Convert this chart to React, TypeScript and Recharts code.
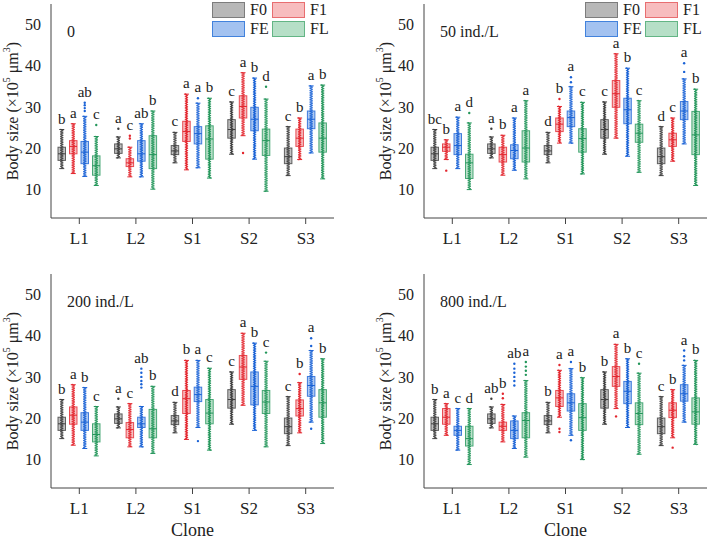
import React from 'react';
import { ComposedChart, Bar, XAxis, YAxis, LabelList, Legend, Label } from 'recharts';

// [min, q1, median, q3, max] for each clone
type Stats = [number, number, number, number, number];

const clones = ['L1', 'L2', 'S1', 'S2', 'S3'];
const groups = ['F0', 'F1', 'FE', 'FL'];
const densities = ['0', '50 ind./L', '200 ind./L', '800 ind./L'];
const yTicks = [10, 20, 30, 40, 50];

// F0 is the shared founder generation
const f0: Stats[] = [
  [15.0, 17.0, 18.6, 20.2, 24.5],
  [17.6, 18.7, 19.8, 21.0, 22.7],
  [16.4, 18.4, 19.3, 20.6, 23.8],
  [18.5, 22.4, 24.5, 26.9, 31.2],
  [13.3, 16.2, 17.9, 20.0, 25.2],
];

const f1Control: Stats[] = [
  [13.8, 18.6, 20.4, 21.8, 25.9],
  [13.0, 15.5, 16.4, 17.4, 20.2],
  [14.7, 21.6, 24.0, 26.5, 33.1],
  [23.0, 27.3, 30.1, 32.7, 38.3],
  [17.2, 20.4, 22.4, 24.6, 27.3],
];
const feControl: Stats[] = [
  [13.1, 16.2, 19.0, 21.6, 27.7],
  [13.0, 16.8, 18.6, 21.8, 25.9],
  [15.2, 21.0, 23.5, 25.2, 30.9],
  [17.3, 24.2, 27.0, 29.9, 37.0],
  [18.8, 24.7, 27.0, 29.0, 35.1],
];
const flControl: Stats[] = [
  [10.9, 13.4, 15.7, 18.1, 22.8],
  [10.0, 15.0, 18.4, 23.0, 29.0],
  [12.7, 17.3, 22.2, 25.4, 32.1],
  [9.5, 18.2, 21.8, 24.6, 31.9],
  [12.5, 19.0, 22.4, 26.1, 35.3],
];

const f1D50: Stats[] = [
  [17.2, 19.2, 20.2, 21.0, 22.0],
  [13.4, 16.6, 18.4, 20.2, 23.1],
  [21.2, 24.0, 25.8, 27.3, 30.1],
  [22.4, 29.9, 33.2, 36.4, 42.9],
  [16.8, 20.4, 22.0, 23.6, 27.3],
];
const feD50: Stats[] = [
  [15.0, 18.4, 20.6, 23.5, 27.5],
  [14.6, 17.4, 19.4, 20.8, 27.3],
  [21.2, 25.2, 27.4, 29.0, 34.9],
  [18.0, 25.9, 29.3, 32.1, 39.4],
  [21.0, 26.9, 29.0, 31.3, 36.8],
];
const flD50: Stats[] = [
  [9.9, 12.6, 16.4, 18.5, 26.1],
  [12.5, 16.6, 20.0, 24.2, 31.5],
  [13.7, 19.0, 22.3, 24.7, 31.1],
  [14.1, 21.4, 23.6, 25.8, 31.5],
  [10.9, 18.4, 23.2, 28.9, 34.3],
];

const f1D200: Stats[] = [
  [13.4, 18.5, 20.7, 22.7, 28.1],
  [13.0, 15.2, 17.2, 18.9, 23.5],
  [14.8, 21.1, 24.7, 26.7, 34.0],
  [23.1, 29.4, 32.4, 35.2, 40.6],
  [16.4, 20.5, 22.3, 24.4, 28.6],
];
const feD200: Stats[] = [
  [12.6, 17.0, 19.0, 21.3, 27.4],
  [13.0, 17.7, 18.6, 20.2, 22.8],
  [17.7, 24.0, 25.7, 27.5, 34.0],
  [17.0, 23.2, 27.7, 31.2, 38.2],
  [19.0, 25.3, 27.9, 30.1, 36.4],
];
const flD200: Stats[] = [
  [10.8, 14.2, 16.0, 18.6, 22.8],
  [11.4, 15.2, 17.4, 22.1, 27.7],
  [12.2, 18.6, 21.2, 24.5, 32.1],
  [13.0, 21.1, 23.9, 26.7, 33.8],
  [13.8, 20.2, 23.7, 26.9, 34.4],
];

const f1D800: Stats[] = [
  [15.8, 18.5, 20.2, 22.3, 23.5],
  [14.2, 17.0, 18.0, 19.0, 23.3],
  [20.2, 22.8, 24.9, 26.7, 31.6],
  [22.3, 27.7, 30.1, 32.5, 37.9],
  [15.2, 20.1, 21.9, 23.7, 26.9],
];
const feD800: Stats[] = [
  [12.2, 15.8, 17.0, 18.0, 22.3],
  [12.6, 15.0, 17.0, 19.3, 20.5],
  [15.8, 21.7, 23.7, 25.9, 32.0],
  [17.7, 23.5, 26.5, 28.9, 34.4],
  [19.0, 24.1, 25.9, 28.1, 32.8],
];
const flD800: Stats[] = [
  [8.7, 13.2, 15.0, 18.0, 22.3],
  [10.5, 15.2, 19.4, 21.3, 29.1],
  [9.9, 17.0, 20.1, 23.5, 29.8],
  [11.2, 18.4, 21.1, 23.7, 30.9],
  [13.6, 18.5, 21.5, 24.9, 34.0],
];

// stats per panel, in the order F0, F1, FE, FL
const panelStats: Stats[][][] = [
  [f0, f1Control, feControl, flControl],
  [f0, f1D50, feD50, flD50],
  [f0, f1D200, feD200, flD200],
  [f0, f1D800, feD800, flD800],
];

// points outside the whiskers: [panel, group, clone, values]
const outliers: [number, string, string, number[]][] = [
  [0, 'F0', 'L2', [24.7]],
  [1, 'F0', 'L2', [24.7]],
  [2, 'F0', 'L2', [24.7]],
  [3, 'F0', 'L2', [24.7]],
  [0, 'F1', 'L2', [22.3, 23.0]],
  [0, 'F1', 'S2', [18.8]],
  [0, 'FE', 'L1', [29.0, 29.7, 30.4, 31.0]],
  [0, 'FE', 'S1', [32.1]],
  [0, 'FL', 'L1', [25.6]],
  [0, 'FL', 'S2', [34.9]],
  [1, 'F1', 'L1', [14.5]],
  [1, 'F1', 'S1', [31.9]],
  [1, 'FE', 'S1', [36.0, 37.2]],
  [1, 'FE', 'S3', [38.5, 40.6]],
  [1, 'FL', 'L1', [28.5]],
  [2, 'F1', 'S3', [30.7]],
  [2, 'FE', 'L2', [27.4, 28.2, 29.0, 30.0, 31.0, 32.0]],
  [2, 'FE', 'S1', [14.4]],
  [2, 'FE', 'S3', [17.4, 37.5, 39.4]],
  [2, 'FL', 'S2', [35.9]],
  [3, 'F1', 'L2', [24.8, 25.9]],
  [3, 'F1', 'S1', [16.6, 17.4, 32.9]],
  [3, 'F1', 'S2', [20.4]],
  [3, 'F1', 'S3', [12.8]],
  [3, 'FE', 'L2', [27.9, 29.0, 30.0, 31.0, 32.0, 33.2]],
  [3, 'FE', 'S1', [14.6, 33.6]],
  [3, 'FE', 'S3', [34.0, 35.0, 36.4]],
  [3, 'FL', 'L2', [30.5, 31.5, 32.5, 33.6]],
  [3, 'FL', 'S2', [33.2]],
];

// significance letters, rows F0, F1, FE, FL
const lettersControl = [['b', 'a', 'c', 'c', 'c'], ['a', 'c', 'a', 'a', 'b'], ['ab', 'ab', 'a', 'b', 'a'], ['c', 'b', 'b', 'd', 'b']];
const lettersD50 = [['bc', 'a', 'd', 'c', 'd'], ['b', 'b', 'b', 'a', 'c'], ['a', 'a', 'a', 'b', 'a'], ['d', 'a', 'c', 'c', 'b']];
const lettersD200 = [['b', 'a', 'd', 'c', 'c'], ['a', 'c', 'b', 'a', 'b'], ['b', 'ab', 'a', 'b', 'a'], ['c', 'b', 'c', 'c', 'b']];
const lettersD800 = [['b', 'ab', 'b', 'b', 'c'], ['a', 'b', 'a', 'a', 'b'], ['c', 'ab', 'a', 'b', 'a'], ['d', 'a', 'b', 'c', 'b']];
const panelLetters = [lettersControl, lettersD50, lettersD200, lettersD800];

const palette: Record<string, { main: string; fill: string; swatch: string; border: string }> = {
  F0: { main: '#3f3f3f', fill: '#8e8e8e', swatch: '#b8b8b8', border: '#7d7d7d' },
  F1: { main: '#e3262e', fill: '#f08a8e', swatch: '#f7bdbe', border: '#e86e70' },
  FE: { main: '#1a62d6', fill: '#6e9fe8', swatch: '#a3c2f0', border: '#4282dc' },
  FL: { main: '#23965a', fill: '#85c9a0', swatch: '#b6dfc7', border: '#63b585' },
};

const serif = '"Liberation Serif", "DejaVu Serif", serif';
const ink = '#222';

function buildRows(panel: number) {
  return clones.map((clone, ci) => {
    const row: Record<string, any> = { clone };
    groups.forEach((g, gi) => {
      const s = panelStats[panel][gi][ci];
      const outs = outliers
        .filter(([p, og, oc]) => p === panel && og === g && oc === clone)
        .flatMap((o) => o[3]);
      row[`${g}_stats`] = s;
      row[`${g}_out`] = outs;
      row[`${g}_range`] = [Math.min(s[0], ...outs), Math.max(s[4], ...outs)];
      row[`${g}_letter`] = panelLetters[panel][gi][ci];
    });
    return row;
  });
}

// box, whiskers and the strip of observations, drawn inside the bar's min..max span
const BoxShape = (props: any) => {
  const { x, y, width, height, payload, group } = props;
  if (!payload) return null;
  const [lo, hi] = payload[`${group}_range`];
  const [mn, q1, med, q3, mx]: Stats = payload[`${group}_stats`];
  const outs: number[] = payload[`${group}_out`];
  const top = Math.min(y, y + height);
  const span = Math.abs(height);
  const toY = (v: number) => top + (span * (hi - v)) / (hi - lo);
  const cx = x + width / 2;
  const c = palette[group];
  const yMax = toY(mx);
  const yMin = toY(mn);
  const yQ3 = toY(q3);
  const yQ1 = toY(q1);
  const yMed = toY(med);
  const strip = { stroke: c.main, strokeWidth: 1.7, strokeLinecap: 'round' as const, strokeDasharray: '0 2.3', opacity: 0.9 };
  return (
    <g>
      <rect x={x} y={yQ3} width={width} height={yQ1 - yQ3} fill={c.fill} fillOpacity={0.55} />
      <line x1={cx} x2={cx} y1={yMax} y2={yMin} stroke={c.main} strokeWidth={1} />
      <line x1={cx - 0.9} x2={cx - 0.9} y1={yMax} y2={yMin} {...strip} />
      <line x1={cx + 0.9} x2={cx + 0.9} y1={yMax + 1.15} y2={yMin} {...strip} />
      <line x1={cx - 2.5} x2={cx + 2.5} y1={yMax} y2={yMax} stroke={c.main} strokeWidth={1} />
      <line x1={cx - 2.5} x2={cx + 2.5} y1={yMin} y2={yMin} stroke={c.main} strokeWidth={1} />
      <rect x={x} y={yQ3} width={width} height={yQ1 - yQ3} fill="none" stroke={c.main} strokeOpacity={0.8} strokeWidth={1} />
      <line x1={x} x2={x + width} y1={yMed} y2={yMed} stroke={c.main} strokeWidth={1} />
      {outs.map((v, i) => (
        <circle key={i} cx={cx} cy={toY(v)} r={1.2} fill={c.main} />
      ))}
    </g>
  );
};

const YTitle = (props: any) => {
  const vb = props.viewBox || { x: 0, y: 4, width: 51, height: 214 };
  const cx = vb.x + 12;
  const cy = vb.y + vb.height / 2;
  return (
    <text
      x={cx}
      y={cy}
      transform={`rotate(-90 ${cx} ${cy})`}
      textAnchor="middle"
      dominantBaseline="central"
      fontSize={16}
      fontFamily={serif}
      fill={ink}
    >
      Body size (×10
      <tspan dy={-6} fontSize={10}>5</tspan>
      <tspan dy={6}> μm</tspan>
      <tspan dy={-6} fontSize={10}>3</tspan>
      <tspan dy={6}>)</tspan>
    </text>
  );
};

const LegendGrid = () => (
  <div
    style={{
      display: 'grid',
      gridTemplateColumns: '60px 60px',
      rowGap: 3,
      fontFamily: serif,
      fontSize: 16,
      color: ink,
    }}
  >
    {groups.map((g) => (
      <div key={g} style={{ display: 'flex', alignItems: 'center', height: 16 }}>
        <span
          style={{
            display: 'inline-block',
            width: 31,
            height: 14,
            background: palette[g].swatch,
            border: `1px solid ${palette[g].border}`,
            marginRight: 5,
          }}
        />
        <span>{g}</span>
      </div>
    ))}
  </div>
);

interface PanelProps {
  index: number;
  left: number;
  top: number;
  legend?: boolean;
  xTitle?: boolean;
}

const Panel: React.FC<PanelProps> = ({ index, left, top, legend, xTitle }) => {
  const data = buildRows(index);
  return (
    <div style={{ position: 'absolute', left, top, width: 336, height: 269 }}>
      <ComposedChart
        width={336}
        height={269}
        data={data}
        margin={{ top: 4, right: 2, left: 0, bottom: 0 }}
        barSize={7.5}
        barGap={4}
      >
        <XAxis
          dataKey="clone"
          height={51}
          tickSize={6}
          tickMargin={8}
          axisLine={{ stroke: '#444' }}
          tickLine={{ stroke: '#444' }}
          tick={{ fill: ink, fontSize: 17, fontFamily: serif }}
        >
          {xTitle && (
            <Label
              value="Clone"
              position="insideBottom"
              offset={3}
              style={{ fontSize: 18, fill: ink, fontFamily: serif }}
            />
          )}
        </XAxis>
        <YAxis
          width={51}
          domain={[3, 55]}
          ticks={yTicks}
          allowDataOverflow
          tickLine={false}
          tickSize={0}
          tickMargin={10}
          axisLine={{ stroke: '#444' }}
          tick={{ fill: ink, fontSize: 16, fontFamily: serif }}
        >
          <Label content={YTitle} />
        </YAxis>
        {legend && (
          <Legend
            layout="horizontal"
            verticalAlign="middle"
            align="center"
            content={LegendGrid}
            wrapperStyle={{ top: 2, left: 212, width: 125, height: 36 }}
          />
        )}
        {groups.map((g) => (
          <Bar
            key={g}
            dataKey={`${g}_range`}
            isAnimationActive={false}
            shape={(p: any) => <BoxShape {...p} group={g} />}
          >
            <LabelList
              dataKey={`${g}_letter`}
              position="top"
              offset={6}
              style={{ fontSize: 15, fill: ink, fontFamily: serif }}
            />
          </Bar>
        ))}
      </ComposedChart>
      <div
        style={{
          position: 'absolute',
          left: 67,
          top: 24,
          fontSize: 16,
          lineHeight: '16px',
          fontFamily: serif,
          color: ink,
          whiteSpace: 'nowrap',
        }}
      >
        {densities[index]}
      </div>
    </div>
  );
};

const App: React.FC = () => (
  <div style={{ position: 'absolute', left: 0, top: 0, width: 709, height: 539, background: '#fff', overflow: 'hidden' }}>
    <Panel index={0} left={0} top={0} legend />
    <Panel index={1} left={373} top={0} legend />
    <Panel index={2} left={0} top={270} xTitle />
    <Panel index={3} left={373} top={270} xTitle />
  </div>
);

export default App;
